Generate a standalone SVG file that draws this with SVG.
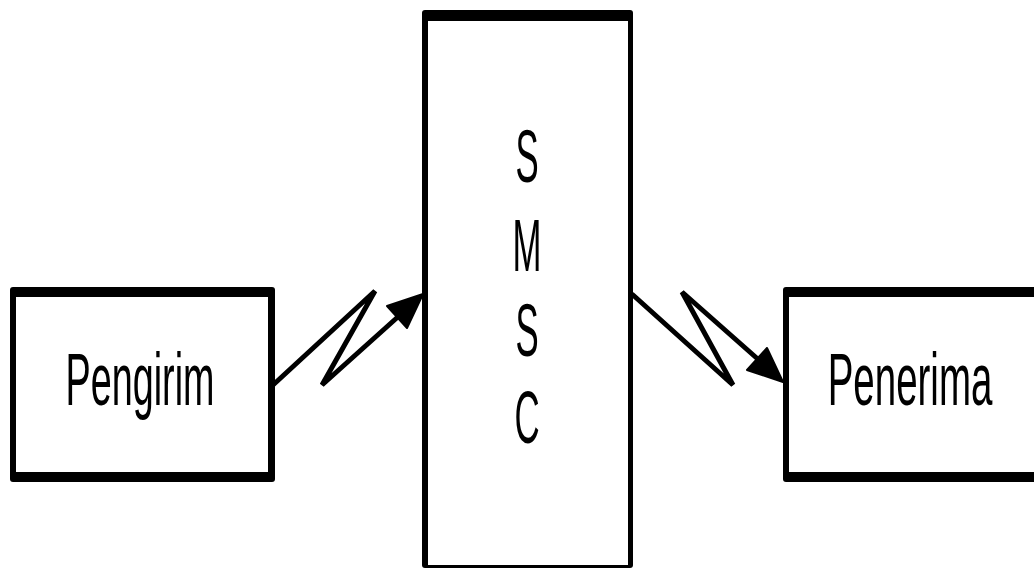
<svg xmlns="http://www.w3.org/2000/svg" width="1034" height="569" viewBox="0 0 1034 569">
<style>
.frame{fill:#000}
.inner{fill:#fff}
.lbl{font-family:"Liberation Sans",Arial,sans-serif;font-size:74px;fill:#000;text-anchor:middle}
.wire{fill:none;stroke:#000;stroke-width:5;stroke-linejoin:miter;stroke-linecap:round}
.head{fill:#000;stroke:#000;stroke-width:2;stroke-linejoin:round}
</style>
<rect width="1034" height="569" fill="#fff"/>
<g id="pengirim">
<rect class="frame" x="10" y="287" width="265" height="195" rx="3"/>
<rect class="inner" x="16" y="297" width="252" height="175"/>
<text class="lbl" transform="translate(140,405) scale(0.51,1)">Pengirim</text>
</g>
<g id="smsc">
<rect class="frame" x="422" y="10" width="211" height="558" rx="3"/>
<rect class="inner" x="428" y="21" width="200" height="544"/>
<text class="lbl" transform="translate(527,182) scale(0.47,1)">S</text>
<text class="lbl" transform="translate(527,271) scale(0.47,1)">M</text>
<text class="lbl" transform="translate(527,356) scale(0.47,1)">S</text>
<text class="lbl" transform="translate(527,443) scale(0.47,1)">C</text>
</g>
<g id="penerima">
<rect class="frame" x="783" y="287" width="260" height="195" rx="3"/>
<rect class="inner" x="789" y="297" width="260" height="175"/>
<text class="lbl" transform="translate(910,405) scale(0.52,1)">Penerima</text>
</g>
<g id="connectors">
<polyline class="wire" points="273,385 375,291 322,385 400,315"/>
<polygon class="head" points="423,294 387,306 407,328"/>
<polyline class="wire" points="633,295 733,385 682,292 760,361"/>
<polygon class="head" points="783,382 767,348 747,370"/>
</g>
</svg>
